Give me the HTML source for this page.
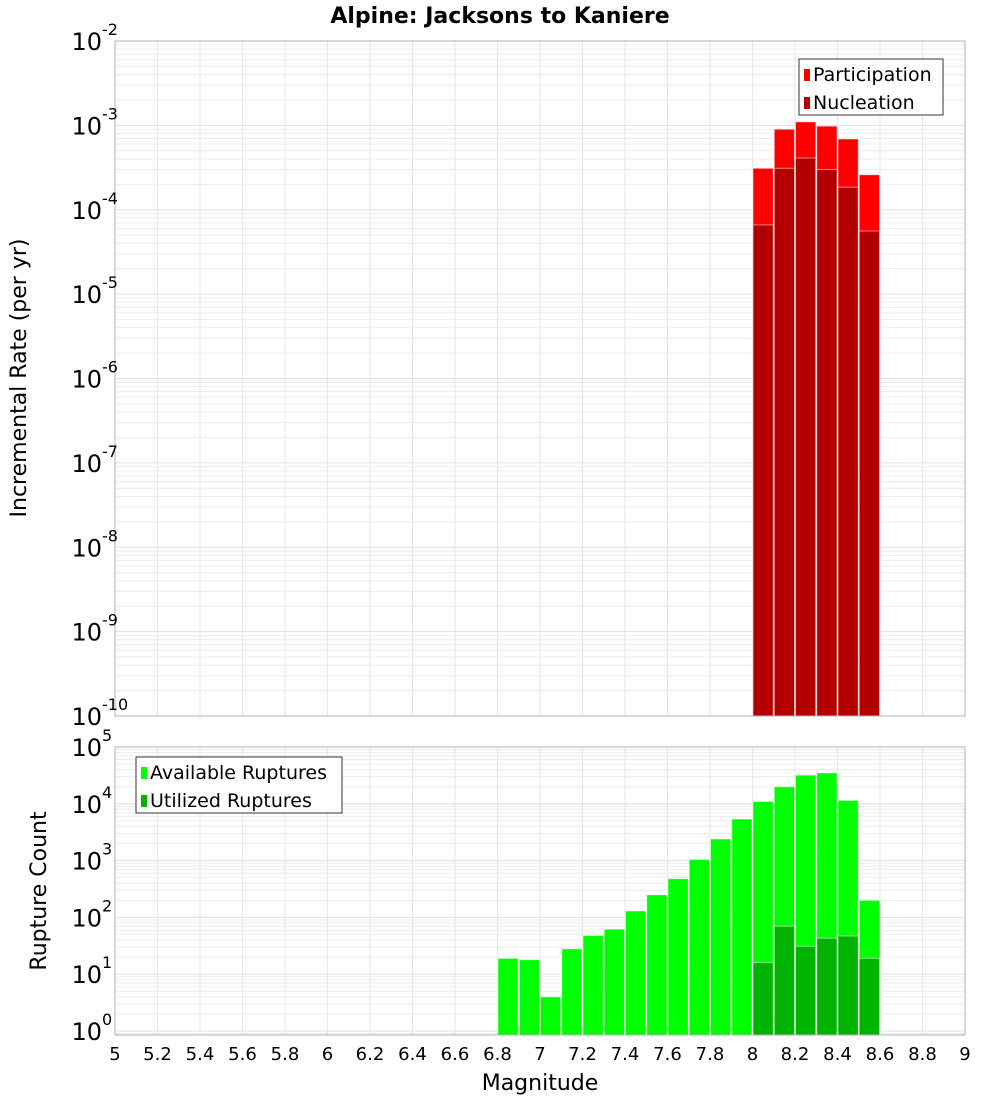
<!DOCTYPE html>
<html><head><meta charset="utf-8"><style>
html,body{margin:0;padding:0;background:#fff;}
svg{display:block;font-family:"DejaVu Sans","Liberation Sans",sans-serif;}
</style></head><body>
<svg id="chart" width="1000" height="1100" xmlns="http://www.w3.org/2000/svg">
<text x="500" y="23" text-anchor="middle" font-size="22" font-weight="bold">Alpine: Jacksons to Kaniere</text>
<g id="top"></g>
<g id="bot"></g>
<text transform="translate(26,378) rotate(-90)" text-anchor="middle" font-size="22">Incremental Rate (per yr)</text>
<text transform="translate(46,891) rotate(-90)" text-anchor="middle" font-size="22">Rupture Count</text>
<text x="540" y="1090" text-anchor="middle" font-size="22">Magnitude</text>
</svg>
<script>
const bins = [6.8,6.9,7.0,7.1,7.2,7.3,7.4,7.5,7.6,7.7,7.8,7.9,8.0,8.1,8.2,8.3,8.4,8.5];
const participation = [0,0,0,0,0,0,0,0,0,0,0,0,3.1e-4,9.0e-4,1.1e-3,9.8e-4,6.9e-4,2.6e-4];
const nucleation = [0,0,0,0,0,0,0,0,0,0,0,0,6.6e-5,3.1e-4,4.1e-4,3.0e-4,1.85e-4,5.6e-5];
const available = [19,18,4,28,48,62,130,250,480,1050,2400,5400,11000,20000,32000,35000,11500,200];
const utilized = [0,0,0,0,0,0,0,0,0,0,0,0,16,70,31,43,47,19];
const xTicks = [5,5.2,5.4,5.6,5.8,6,6.2,6.4,6.6,6.8,7,7.2,7.4,7.6,7.8,8,8.2,8.4,8.6,8.8,9];
const topExp = [-2,-3,-4,-5,-6,-7,-8,-9,-10];
const botExp = [5,4,3,2,1,0];

const NS="http://www.w3.org/2000/svg";
const L=115,R=965;
function x(m){return L+(m-5)/4*(R-L);}
function mk(parent,tag,attrs){const e=document.createElementNS(NS,tag);for(const k in attrs)e.setAttribute(k,attrs[k]);parent.appendChild(e);return e;}

function panel(g,top,bottom,lmin,lmax,exps,series,colors,legend,legPos,namePrefix){
  const y=v=>top+(lmax-Math.log10(v))/(lmax-lmin)*(bottom-top);
  // grid
  for(let d=Math.floor(lmin);d<lmax;d++){
    for(let k=1;k<10;k++){const v=k*Math.pow(10,d);const lv=Math.log10(v);if(lv<lmin||lv>lmax)continue;
      const ln=mk(g,'line',{x1:L,x2:R,y1:y(v),y2:y(v),stroke:k==1?'#e0e0e0':'#ececec','stroke-width':1});
      
      }
  }
  xTicks.forEach(t=>{const ln=mk(g,'line',{x1:x(t),x2:x(t),y1:top,y2:bottom,stroke:'#e6e6e6','stroke-width':1});
    
    });
  // bars
  series.forEach((s,si)=>{
    s.forEach((v,i)=>{if(!(v>0))return;
      const x0=x(bins[i])+0.5,x1=x(bins[i]+0.1)-0.5,yt=y(v);
      const r=mk(g,'rect',{x:x0,y:yt,width:x1-x0,height:bottom-yt,fill:colors[si],stroke:'#fff','stroke-opacity':0.5,'stroke-width':1});
      
      });
  });
  const fr=mk(g,'rect',{x:L,y:top,width:R-L,height:bottom-top,fill:'none',stroke:'#b0b0b0','stroke-width':1});
  
  
  // y ticks
  exps.forEach(e=>{const yy=top+(lmax-e)/(lmax-lmin)*(bottom-top);
    const t=mk(g,'text',{x:102,y:yy+9,'text-anchor':'end','font-size':24});t.textContent='10';
    
    
    const s=mk(g,'text',{x:102,y:yy-6,'text-anchor':'start','font-size':16});s.textContent=String(e);
    
    });
  // legend
  const lg=mk(g,'g',{});
  
  
  mk(lg,'rect',{x:legPos[0],y:legPos[1],width:legPos[2],height:56,fill:'#fff',stroke:'#333','stroke-width':1});
  legend.forEach((n,i)=>{
    const sw=mk(lg,'rect',{x:legPos[0]+5,y:legPos[1]+10+i*28,width:6,height:12,fill:colors[i]});
    
    
    const t=mk(lg,'text',{x:legPos[0]+14,y:legPos[1]+22+i*28,'font-size':19});t.textContent=n;
    
    });
}
panel(document.getElementById('top'),41,716,-10,-2,topExp,[participation,nucleation],['#ff0000','#b30000'],['Participation','Nucleation'],[799,59,144],['participation','nucleation']);
panel(document.getElementById('bot'),747,1035,-0.07,5,botExp,[available,utilized],['#00ff00','#00b300'],['Available Ruptures','Utilized Ruptures'],[136,757,206],['available','utilized']);
const svg=document.getElementById('chart');
xTicks.forEach(t=>{const e=mk(svg,'text',{x:x(t),y:1060,'text-anchor':'middle','font-size':18});
  e.textContent=String(t);
  
  });
</script>
</body></html>
